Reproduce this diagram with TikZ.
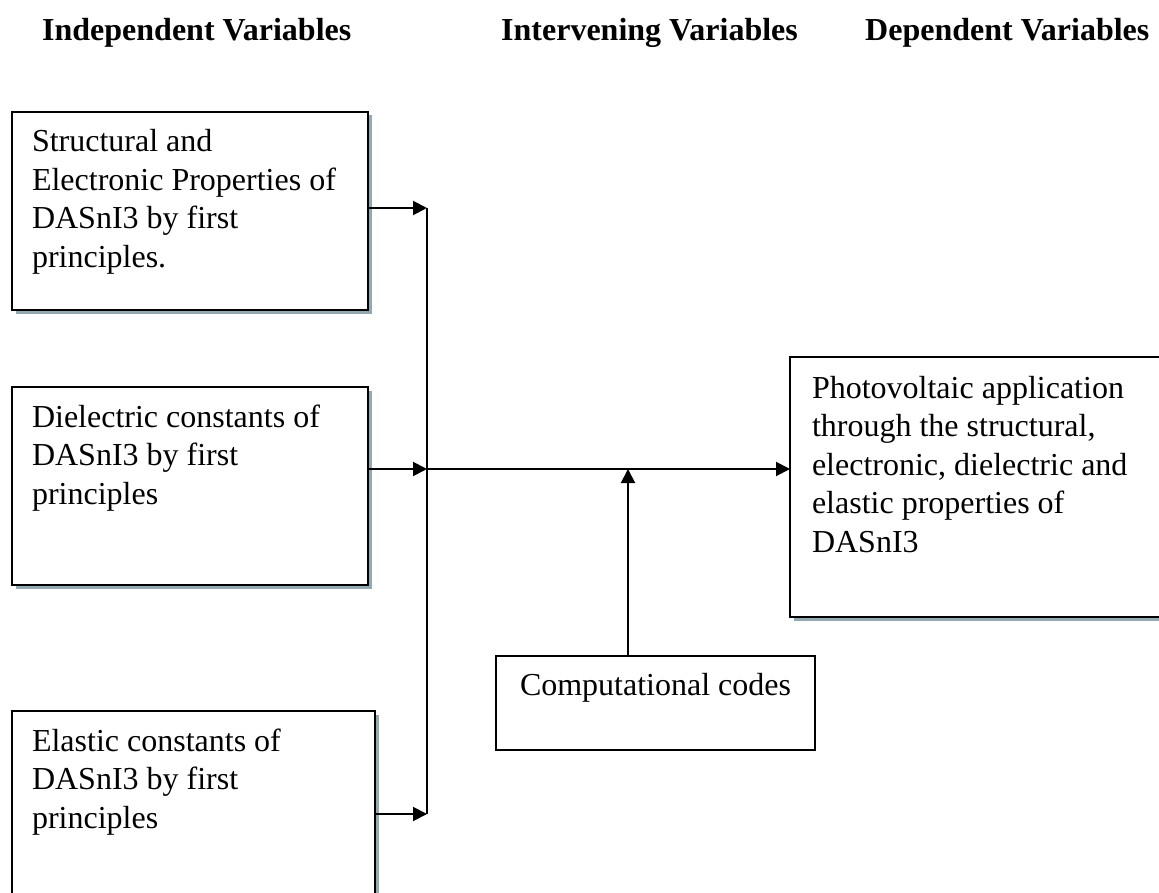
\documentclass[tikz,border=0pt]{standalone}
\usepackage{fontspec}
\setmainfont{Liberation Serif}
\usetikzlibrary{arrows.meta,shadows}
\definecolor{shadowc}{HTML}{93A9B1}
\begin{document}
\begin{tikzpicture}[x=1pt,y=-1pt,
  box/.style={draw=black, line width=2pt, fill=white, rectangle, inner sep=0pt, outer sep=0pt, anchor=north west},
  shadowed/.style={drop shadow={shadow xshift=3.5pt, shadow yshift=-3.5pt, fill=shadowc, opacity=1}},
  txt/.style={anchor=base west, inner sep=0pt, outer sep=0pt},
  hdr/.style={anchor=base west, inner sep=0pt, font=\fontsize{32}{38}\selectfont\bfseries},
  conn/.style={line width=2pt},
  arr/.style={line width=2pt, -{Triangle[length=14pt,width=14pt]}}
]
\useasboundingbox (0,0) rectangle (1159,893);
\clip (0,0) rectangle (1159,893);
\fill[white] (0,0) rectangle (1159,893);

\newcommand{\blocktext}[1]{\parbox[t]{400pt}{\fontsize{32}{38.5}\selectfont\raggedright #1}}

% headers
\node[hdr] (h1) at (42,41) {Independent Variables};
\node[hdr] (h2) at (501,41) {Intervening Variables};
\node[hdr] (h3) at (865,41) {Dependent Variables};

% boxes
\node[box, shadowed, minimum width=356pt, minimum height=198pt] (b1) at (12,112) {};
\node[box, shadowed, minimum width=356pt, minimum height=198pt] (b2) at (12,387) {};
\node[box, shadowed, minimum width=363pt, minimum height=184pt] (b3) at (12,711) {};
\node[box, shadowed, minimum width=380pt, minimum height=260pt] (out) at (790,357) {};
\node[box, minimum width=319pt, minimum height=94pt] (comp) at (496,656) {};

% texts
\node[txt] (t1) at (32,152) {\blocktext{Structural and\\Electronic Properties of\\DASnI3 by first\\principles.}};
\node[txt] (t2) at (32,427) {\blocktext{Dielectric constants of\\DASnI3 by first\\principles}};
\node[txt] (t3) at (32,751) {\blocktext{Elastic constants of\\DASnI3 by first\\principles}};
\node[txt] (t4) at (812,398) {\blocktext{Photovoltaic application\\through the structural,\\electronic, dielectric and\\elastic properties of\\DASnI3}};
\node[txt] (t5) at (520,695) {\blocktext{Computational codes}};

% junctions
\coordinate (j1) at (427,208);
\coordinate (j2) at (427,469);
\coordinate (j3) at (427,814);
\coordinate (jc) at (628,469);

% connectors
\draw[conn] (j1) -- (j3);
\draw[arr] (b1.east |- j1) -- (j1);
\draw[arr] (b2.east |- j2) -- (j2);
\draw[arr] (b3.east |- j3) -- (j3);
\draw[arr] (j2) -- (out.west |- j2);
\draw[arr] (comp.north -| jc) -- (jc);
\end{tikzpicture}
\end{document}
